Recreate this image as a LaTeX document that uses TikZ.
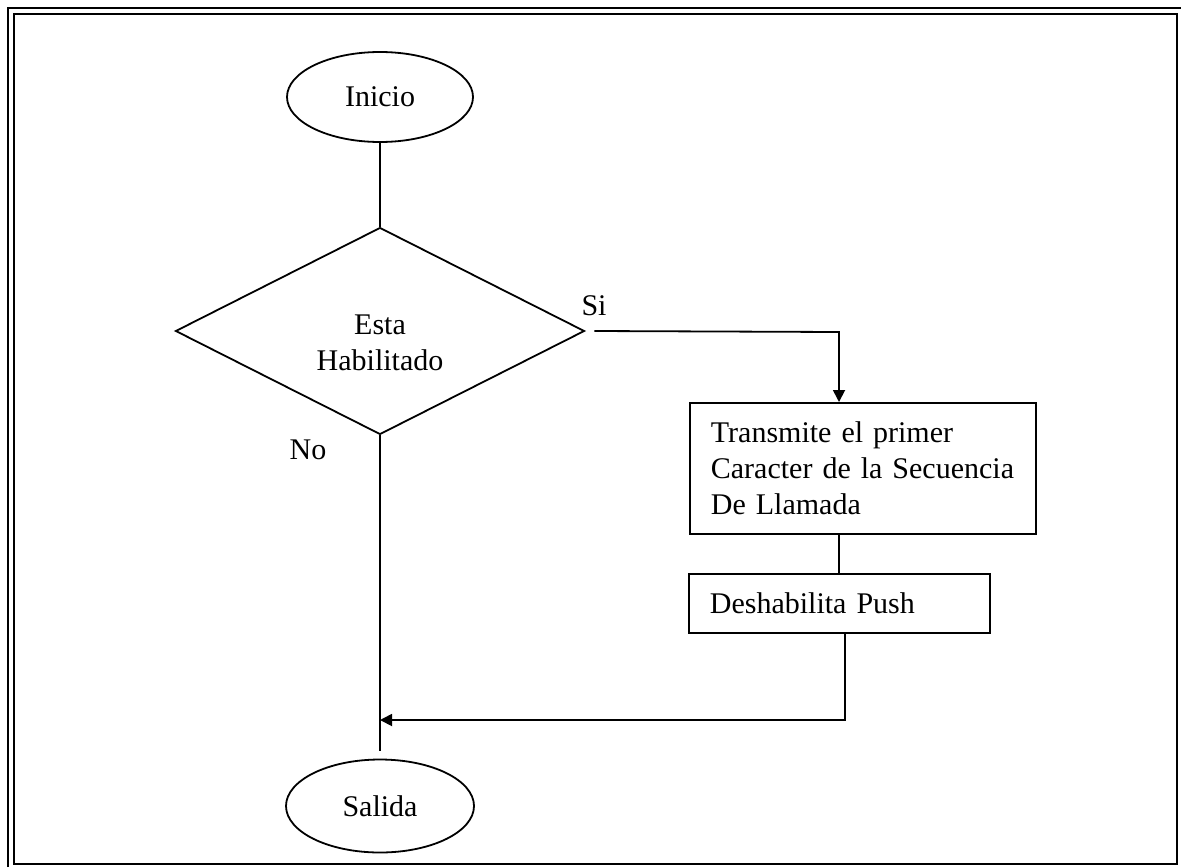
\documentclass[tikz,border=0pt]{standalone}
\usepackage{fontspec}
\setmainfont{Liberation Serif}
\usetikzlibrary{arrows.meta,positioning,shapes.geometric}
\tikzset{
  >=Triangle,
  font=\fontsize{15}{18}\selectfont,
  framebox/.style={
    line width=1.4pt,
    draw=black
  },
  terminal/.style={
    ellipse,
    draw=black,
    line width=0.9pt,
    minimum width=93pt,
    minimum height=45pt,
    inner sep=0pt
  },
  decision/.style={
    diamond,
    draw=black,
    line width=0.9pt,
    minimum width=204.5pt,
    minimum height=92.5pt,
    inner sep=0pt,
    align=center
  },
  process/.style={
    rectangle,
    draw=black,
    line width=0.9pt,
    align=left,
    inner xsep=10.5pt,
    anchor=north west
  },
  flowline/.style={
    line width=0.9pt,
    draw=black
  },
  flowarrow/.style={
    -{Triangle[length=6pt,width=6pt]},
    line width=0.9pt,
    draw=black
  },
  lab/.style={
    inner sep=0pt
  }
}
\begin{document}
\begin{tikzpicture}[x=0.5pt,y=-0.5pt]

\useasboundingbox (0,0) rectangle (1181,867);

% page frame
\draw[framebox] (14,14) rectangle (1177,864);
\draw[framebox] (8,867) -- (8,8) -- (1181,8);

\node[terminal] (inicio) at (380,97) {Inicio};
\node[decision] (habil) at (380,331) {\rule{0pt}{22pt}Esta\\Habilitado};

\node[process, text width=152pt, minimum height=65.5pt] (trans) at (689,402)
{Transmite el primer\\
Caracter de la Secuencia\\
De Llamada};
\node[process, text width=129.5pt, minimum height=29.5pt] (push) at (688,573)
{Deshabilita Push};

\node[terminal, minimum width=94pt, minimum height=46.5pt] (salida) at (380,806) {Salida};

\node[lab] (si) at (594,306) {Si};
\node[lab] (no) at (308,450) {No};

\coordinate (siturn) at (839,332);
\coordinate (back) at (845,720);

\draw[flowline] (inicio) -- (habil);
\draw[flowarrow] ([xshift=4.5pt]habil.east) -- (siturn) -- (siturn |- trans.north);
\draw[flowline] (siturn |- trans.south) -- (siturn |- push.north);
\draw[flowarrow] (back |- push.south) -- (back) -- (back -| habil.south);
\draw[flowline, shorten >=4pt] (habil.south) -- (salida.north);

\end{tikzpicture}
\end{document}
